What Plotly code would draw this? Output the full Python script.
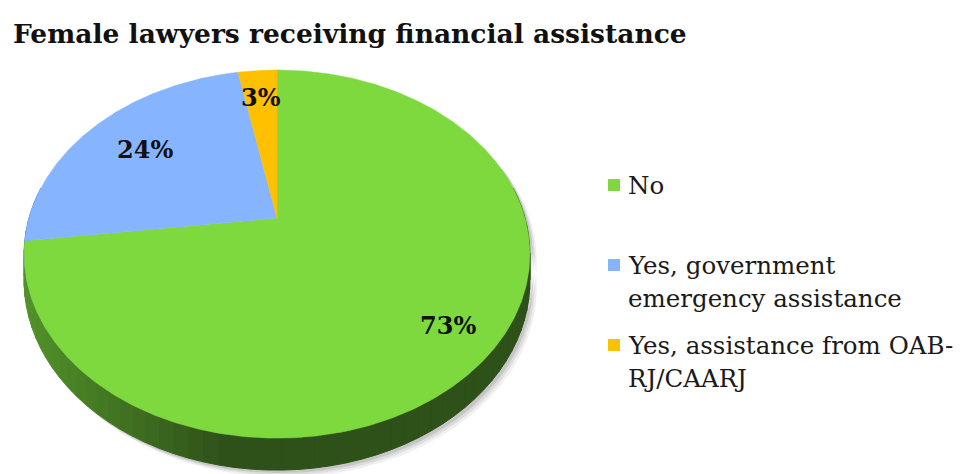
import math
import plotly.graph_objects as go

# ---- data -------------------------------------------------------------
categories = ["No", "Yes, government emergency assistance", "Yes, assistance from OAB-RJ/CAARJ"]
legend_lines = [["No"], ["Yes, government", "emergency assistance"], ["Yes, assistance from OAB-", "RJ/CAARJ"]]
shares = [73, 24, 3]
title_text = "Female lawyers receiving financial assistance"

# ---- style ------------------------------------------------------------
W, H = 963, 474
top_colors = ["#7DD93E", "#87B4FF", "#FFC000"]
side_dark = [(46, 80, 25), (60, 90, 150), (150, 110, 0)]
side_light = [(82, 145, 42), (90, 130, 210), (200, 150, 0)]
FONT = "DejaVu Serif"

# perspective pie geometry (pixel space)
CX, CY = 277, 218        # apex of the pie on screen
SX, SY = 248, 177        # horizontal / vertical scale
K = 0.196                # perspective strength
D0 = 25.7                # thickness of the disc
label_r = [0.82, 0.71, 0.79]


def proj(phi_deg, r=1.0, drop=False):
    """Screen position of a point on the tilted disc; phi clockwise from 12 o'clock."""
    p = math.radians(phi_deg)
    X, Z = r * math.sin(p), r * math.cos(p)
    w = 1 + K * Z
    x = CX + SX * X / w
    y = CY - SY * Z / w
    if drop:
        y += D0 / w
    return x, y


def arc(a0, a1, n_per_deg=2, **kw):
    n = max(2, int(abs(a1 - a0) * n_per_deg) + 1)
    return [proj(a0 + (a1 - a0) * i / (n - 1), **kw) for i in range(n)]


total = sum(shares)
bounds = []
acc = 0.0
for v in shares:
    a0 = 360.0 * acc / total
    acc += v
    bounds.append((a0, 360.0 * acc / total))

fig = go.Figure()

# soft shadow under the disc
front = arc(70, 290, drop=True)
for dx, dy, a in [(7, 7, 0.06), (5, 5, 0.08), (3, 3, 0.10)]:
    pts = arc(70, 290) + front[::-1]
    fig.add_trace(go.Scatter(
        x=[p[0] + dx for p in pts] + [pts[0][0] + dx],
        y=[p[1] + dy for p in pts] + [pts[0][1] + dy],
        mode="lines", fill="toself", line=dict(width=0),
        fillcolor=f"rgba(0,0,0,{a})", hoverinfo="skip", showlegend=False))

# side wall of the disc, shaded from left (lighter) to right (darker)
xl, xr = CX - SX, CX + SX
for i, (a0, a1) in enumerate(bounds):
    lo, hi = max(a0, 80), min(a1, 280)
    if hi <= lo:
        continue
    step = 3.0
    a = lo
    while a < hi - 1e-9:
        b = min(a + step, hi)
        top = arc(a, b, n_per_deg=3)
        bot = arc(a, b, n_per_deg=3, drop=True)
        mx = (top[0][0] + top[-1][0]) / 2
        t = min(1.0, max(0.0, (mx - xl) / (xr - xl)))
        f = max(0.0, 1 - t / 0.4)
        c = tuple(int(side_dark[i][j] + (side_light[i][j] - side_dark[i][j]) * f) for j in range(3))
        col = f"rgb{c}"
        pts = top + bot[::-1] + [top[0]]
        fig.add_trace(go.Scatter(
            x=[p[0] for p in pts], y=[p[1] for p in pts],
            mode="lines", fill="toself", line=dict(width=1, color=col),
            fillcolor=col, hoverinfo="skip", showlegend=False))
        a = b

# top face slices
for i, (a0, a1) in enumerate(bounds):
    pts = [(CX, CY)] + arc(a0, a1) + [(CX, CY)]
    fig.add_trace(go.Scatter(
        x=[p[0] for p in pts], y=[p[1] for p in pts],
        mode="lines", fill="toself", line=dict(width=0.5, color=top_colors[i]),
        fillcolor=top_colors[i], name=categories[i],
        hoverinfo="text", text=f"{categories[i]}: {shares[i]}%", showlegend=False))

# percentage labels
for i, (a0, a1) in enumerate(bounds):
    lx, ly = proj((a0 + a1) / 2, r=label_r[i])
    fig.add_annotation(x=lx, y=ly, text=f"<b>{shares[i] / total * 100:.0f}%</b>",
                       showarrow=False, font=dict(family=FONT, size=24, color="#111111"))

# legend
legend_y = [185, 265, 345]
line_gap = 33
for i, lines in enumerate(legend_lines):
    y0 = legend_y[i]
    fig.add_shape(type="rect", x0=608, x1=620, y0=y0 - 6, y1=y0 + 6,
                  fillcolor=top_colors[i], line=dict(width=0))
    for j, ln in enumerate(lines):
        fig.add_annotation(x=626, y=y0 + j * line_gap, text=ln, showarrow=False,
                           xanchor="left", yanchor="middle",
                           font=dict(family=FONT, size=24.5, color="#1a1a1a"))

# title
fig.add_annotation(x=11, y=33, text=f"<b>{title_text}</b>", showarrow=False,
                   xanchor="left", yanchor="middle",
                   font=dict(family=FONT, size=26.5, color="#111111"))

fig.update_layout(
    width=W, height=H, margin=dict(l=0, r=0, t=0, b=0),
    paper_bgcolor="white", plot_bgcolor="white", showlegend=False,
    xaxis=dict(range=[0, W], visible=False, fixedrange=True),
    yaxis=dict(range=[H, 0], visible=False, fixedrange=True),
)

fig.write_html("out.html")
